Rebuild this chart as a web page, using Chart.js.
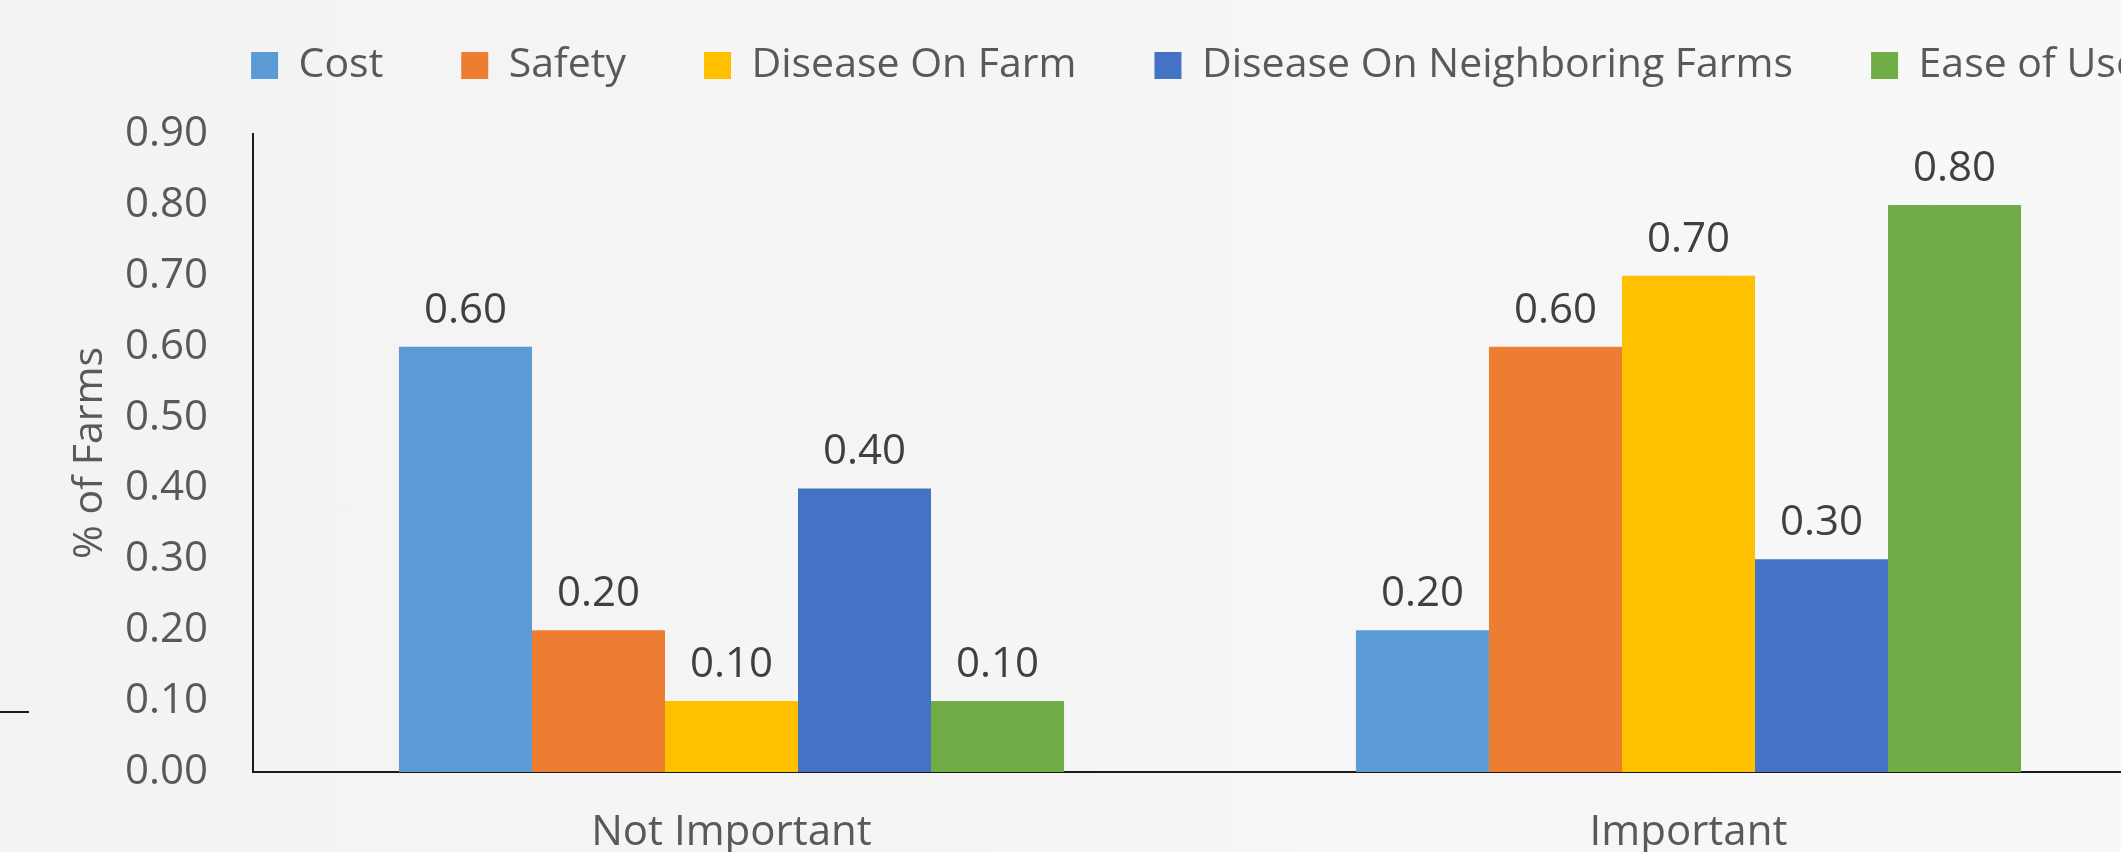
<!DOCTYPE html>
<html>
<head>
<meta charset="utf-8">
<script src="https://cdn.jsdelivr.net/npm/chart.js@4"></script>
<style>
  html, body {
    margin: 0;
    padding: 0;
    width: 2121px;
    height: 852px;
    overflow: hidden;
    background: linear-gradient(to right, #f3f3f3, #f8f8f8);
    font-family: "Open Sans", sans-serif;
  }
  #wrap { position: relative; width: 2390px; height: 860px; }
  .edge-line { position: absolute; left: 0; top: 711px; width: 29px; height: 2px; background: #1a1a1a; }
</style>
</head>
<body>
<div id="wrap">
  <canvas id="chart" width="2390" height="860"></canvas>
  <div class="edge-line"></div>
</div>
<script>
const categories = ["Not Important", "Important"];
const seriesNames = ["Cost", "Safety", "Disease On Farm", "Disease On Neighboring Farms", "Ease of Use"];
const costValues = [0.60, 0.20];
const safetyValues = [0.20, 0.60];
const diseaseOnFarmValues = [0.10, 0.70];
const diseaseNeighborValues = [0.40, 0.30];
const easeOfUseValues = [0.10, 0.80];
const seriesColors = ["#5B9BD5", "#ED7D31", "#FFC000", "#4472C4", "#70AD47"];
const yTicks = { min: 0, max: 0.9, step: 0.1 };

const allValues = [costValues, safetyValues, diseaseOnFarmValues, diseaseNeighborValues, easeOfUseValues];

const FONT = "'Open Sans', sans-serif";

// values printed above each bar
const barLabels = {
  id: "barLabels",
  afterDatasetsDraw(chart) {
    const ctx = chart.ctx;
    ctx.save();
    ctx.font = "42px " + FONT;
    ctx.fillStyle = "#404040";
    ctx.textAlign = "center";
    ctx.textBaseline = "alphabetic";
    chart.data.datasets.forEach((ds, i) => {
      chart.getDatasetMeta(i).data.forEach((bar, j) => {
        ctx.fillText(ds.data[j].toFixed(2), bar.x, bar.y - 24);
      });
    });
    ctx.restore();
  }
};

// legend box height fixed so the plot starts at the right place
const legendHeight = {
  id: "legendHeight",
  beforeInit(chart) {
    const fit = chart.legend.fit;
    chart.legend.fit = function () {
      fit.call(this);
      this.height = 167;
    };
  }
};

const chart = new Chart(document.getElementById("chart"), {
  type: "bar",
  data: {
    labels: categories,
    datasets: seriesNames.map((name, i) => ({
      label: name,
      data: allValues[i],
      backgroundColor: seriesColors[i],
      borderWidth: 0,
      barPercentage: 1,
      categoryPercentage: 0.695,
      yAxisID: "y",
    })),
  },
  options: {
    responsive: false,
    animation: false,
    layout: { padding: { top: -33, left: 0, right: 0, bottom: 0 } },
    plugins: {
      tooltip: { enabled: false },
      legend: {
        position: "top",
        labels: {
          font: { family: FONT, size: 41 },
          color: "#595959",
          boxWidth: 27,
          boxHeight: 27,
          padding: 78,
        },
      },
    },
    scales: {
      x: {
        grid: { display: false, drawTicks: false },
        border: { display: true, color: "#1a1a1a", width: 2 },
        ticks: {
          font: { family: FONT, size: 42 },
          color: "#595959",
          padding: 36,
        },
        afterFit(scale) { scale.height = 88; },
      },
      y: {
        min: yTicks.min,
        max: yTicks.max,
        grid: { display: false, drawTicks: false },
        border: { display: true, color: "#1a1a1a", width: 2 },
        ticks: {
          stepSize: yTicks.step,
          font: { family: FONT, size: 42 },
          color: "#595959",
          padding: 45,
          callback: (v) => Number(v).toFixed(2),
        },
        title: {
          display: true,
          text: "% of Farms",
          font: { family: FONT, size: 41 },
          color: "#595959",
          padding: { top: 66, bottom: 0 },
        },
        afterFit(scale) { scale.width = 253; },
      },
      y2: {
        position: "right",
        grid: { display: false, drawTicks: false },
        border: { display: false },
        ticks: { display: false },
        afterFit(scale) { scale.width = 223; },
      },
    },
  },
  plugins: [barLabels, legendHeight],
});
</script>
</body>
</html>
